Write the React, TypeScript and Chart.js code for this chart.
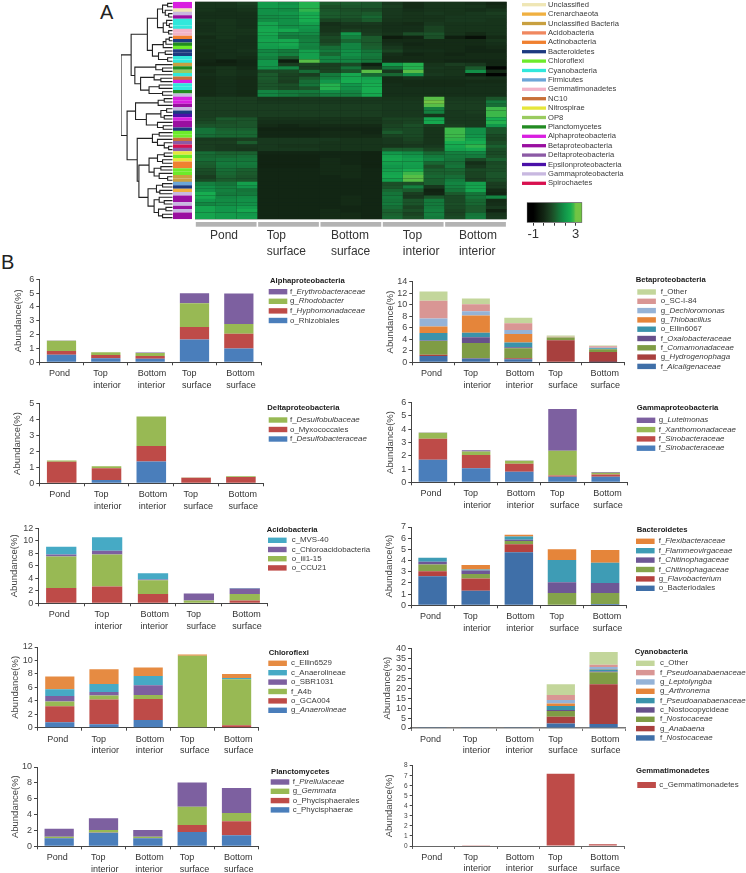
import React, { useEffect, useRef } from "react";
import Chart from "chart.js/auto";

const FONT = '"Liberation Sans", Arial, sans-serif';

// ---------- Panel A data ----------
const heatGroups = ["Pond", "Top surface", "Bottom surface", "Top interior", "Bottom interior"];
const heatGroupTickLabels: (string | string[])[] = ["Pond", ["Top", "surface"], ["Bottom", "surface"], ["Top", "interior"], ["Bottom", "interior"]];
const heatRows: number[][] = [
  [.3,.3,.5, 2.1,1.9,2.6, 1.0,1.0,.9, .4,.1,.3, .3,.2,.0],
  [.3,.3,.4, 2.1,2.0,2.6, .8,.9,.9, .5,.1,.3, .3,.3,.1],
  [.3,.2,.3, 1.9,1.8,2.7, .9,.8,.7, .4,.2,.3, .3,.2,.3],
  [.2,.2,.2, 1.9,2.0,2.4, 1.0,.9,1.0, .4,.3,.4, .3,.4,.5],
  [.2,.2,.2, 1.8,1.9,2.5, 1.0,.9,1.2, .4,.3,.3, .4,.4,.4],
  [.3,.3,.2, 1.8,1.9,2.5, .6,.7,1.0, .3,.3,.3, .4,.4,.3],
  [.2,.3,.2, 2.3,1.9,2.2, .2,.4,.4, .2,.1,.4, .3,.3,.3],
  [.2,.3,.2, 2.3,1.9,2.0, .3,.3,.3, .2,.2,.6, .3,.3,.3],
  [.2,.3,.3, 2.4,2.4,1.9, .3,.5,.4, .2,.2,.6, .3,.3,.3],
  [.3,.3,.3, 2.4,1.7,1.8, .5,2.0,.5, .3,.8,.9, .3,.1,.3],
  [.1,.3,.2, 2.2,1.5,1.5, .7,1.6,1.0, -.3,-.1,.8, -.2,-.6,.1],
  [.2,.2,.2, 2.3,2.4,1.6, .6,1.2,1.0, .1,.1,.1, .1,.1,.3],
  [.2,.2,.2, 2.2,2.4,1.7, .8,1.7,1.0, .2,.0,.1, .1,.1,.2],
  [.1,.2,.2, 2.1,2.2,1.6, 1.3,1.7,1.1, .4,.1,.1, .1,.0,.1],
  [.2,.2,.3, 1.7,1.5,2.2, 1.5,1.9,1.4, .6,.2,.2, .1,.0,.0],
  [.1,.2,.2, 1.8,1.6,2.2, 1.2,1.9,1.5, .2,.0,.1, .0,.1,.1],
  [.1,.2,.1, 1.6,1.0,2.2, 1.7,1.7,1.4, .1,.1,.1, .1,.1,.1],
  [.0,-.2,.0, 2.0,-.2,2.9, 1.7,1.7,1.4, .1,.1,.1, .0,.0,.0],
  [-.1,-.1,.0, 2.0,.5,.6, .5,.7,-.2, 2.1,2.6,.3, .5,.4,.0],
  [.2,.3,.1, 1.9,1.7,.5, .6,1.4,.3, 1.4,2.6,.4, .3,1.0,-.9],
  [.1,.3,.2, .7,.7,1.3, .6,.9,2.9, .4,2.9,.3, .3,1.9,.1],
  [.2,.3,.2, 1.0,.6,.5, 1.5,2.4,1.2, 1.2,1.9,.4, .3,-.2,-.9],
  [.1,.2,.1, 1.0,.6,1.0, 1.6,2.4,2.2, .1,.3,.2, .2,.3,.2],
  [.1,.2,.1, .9,.5,1.3, 2.0,2.5,2.4, .1,.1,.1, .1,.1,.1],
  [.1,.2,.1, .9,.8,1.4, 2.6,2.0,2.5, .2,.1,.1, .1,.2,.2],
  [.1,.2,.1, .9,.7,.9, 2.6,1.9,2.5, .2,.2,.2, .2,.2,.2],
  [.1,.2,.1, 1.7,1.5,1.5, 1.9,1.7,2.5, .2,.2,.2, .2,.2,.2],
  [.1,.2,.1, 1.7,1.5,1.3, 1.6,1.6,2.4, .2,.2,.2, .2,.2,.2],
  [.5,.5,.5, .3,.3,.4, .4,.4,.4, .3,.3,2.9, .4,.4,.9],
  [.5,.5,.5, .4,.4,.4, .4,.4,.4, .4,.4,3.0, .5,.5,1.5],
  [.5,.5,.5, .5,.5,.5, .5,.5,.5, .4,.4,2.9, .5,.5,1.3],
  [.5,.5,.5, .5,.5,.5, .5,.5,.5, .4,.4,1.6, .5,.5,2.8],
  [.5,.5,.5, .5,.5,.5, .5,.5,.5, .4,.4,1.6, .4,.5,2.8],
  [.5,.5,.5, .5,.5,.5, .5,.5,.5, .4,.4,.3, .4,.4,2.8],
  [.6,1.0,.9, .3,.3,.3, .3,.3,.3, .6,.6,2.3, .4,.4,2.5],
  [.7,.8,.9, .2,.2,.2, .3,.3,.3, .5,.6,2.4, .4,.4,2.6],
  [.9,.9,.9, .1,.0,.1, .1,.1,.1, .6,.8,.5, .5,.4,2.0],
  [1.4,1.1,1.1, -.1,-.1,-.1, .0,.0,.0, .7,.7,.3, 2.8,1.9,.9],
  [1.4,1.2,1.2, .0,.0,.0, .1,.1,.0, 1.0,.7,.3, 2.8,1.9,.9],
  [1.3,1.2,1.2, .0,.0,.0, .1,.1,.1, .6,.7,.3, 2.8,2.0,.7],
  [.4,.4,.5, .4,.4,.4, .4,.3,.3, .4,.6,.3, 2.7,2.2,.6],
  [.5,.5,1.0, .4,.4,.4, .3,.3,.3, .4,.5,.3, 2.5,2.5,.8],
  [.5,.4,.4, .4,.3,.3, .3,.3,.3, .3,.4,.4, 2.4,2.7,1.1],
  [.5,.4,.3, .4,.4,.4, .3,.3,.3, 1.0,1.0,.6, 2.2,2.4,.8],
  [1.3,1.1,1.1, .0,.0,.0, .0,.0,-.1, 2.0,1.8,1.2, 1.6,1.7,.7],
  [1.2,1.2,1.3, -.1,-.1,-.1, .0,.0,-.1, 2.3,2.0,1.5, 1.5,1.5,.8],
  [1.3,1.4,1.4, -.1,-.1,-.1, .1,.0,-.1, 2.4,2.2,1.7, 1.4,.7,1.1],
  [1.1,1.5,1.5, -.1,-.1,-.1, .1,.0,-.1, 2.2,2.2,1.2, 1.3,.2,.7],
  [1.0,1.4,1.4, -.1,-.1,-.1, .1,.1,-.1, 2.0,2.1,.8, 1.4,.4,.8],
  [.8,1.3,1.1, .0,.0,.0, .1,.1,.0, 2.2,2.5,1.1, 1.2,.7,.8],
  [.7,1.2,1.0, .0,.0,.0, .1,.1,.0, 2.3,2.8,1.1, 1.1,.6,.9],
  [.5,1.1,.9, .0,.0,.0, .0,.1,.0, 2.4,2.9,1.2, 1.3,.6,.9],
  [.7,1.0,.9, .0,.0,.0, .0,.0,.0, 2.2,2.9,1.1, 1.5,.5,.8],
  [1.6,1.4,2.2, .0,.0,.0, .0,.0,.0, .8,.8,1.1, 1.7,2.2,.5],
  [1.9,1.6,2.0, .0,.0,.0, .0,.0,.0, .9,1.6,.4, 1.6,2.3,.5],
  [1.9,1.6,1.4, .0,.0,.0, .0,.0,.0, 1.2,1.0,-.1, 1.4,2.3,.1],
  [2.5,1.5,1.5, .0,.0,.0, .0,.0,.0, 1.4,.5,.0, 1.0,1.4,.0],
  [2.4,1.7,1.8, .0,.0,.0, .0,.1,.0, 1.5,.4,.9, .7,1.4,1.7],
  [2.0,1.8,1.9, .0,.0,.0, .0,.1,.0, 1.4,.9,1.5, .7,1.2,.1],
  [1.7,1.8,1.9, .0,.0,.0, .0,.1,.0, 1.5,.9,1.5, .8,1.2,.2],
  [2.3,2.0,2.1, .0,.0,.0, .0,.0,.0, 1.3,.6,1.5, .7,1.0,.4],
  [2.3,2.0,2.4, .0,.0,.0, .1,.0,.0, 1.1,.8,1.6, .6,1.0,-.1],
  [2.3,2.1,2.0, .0,.0,.0, .1,.1,.0, 1.1,.6,1.6, .6,1.4,.3],
  [2.3,2.1,2.1, .0,.0,.0, .1,.1,.0, 1.2,.8,1.5, .7,1.5,.4],
];

const phylaNames = ["Unclassified", "Crenarchaeota", "Unclassified Bacteria", "Acidobacteria", "Actinobacteria", "Bacteroidetes", "Chloroflexi", "Cyanobacteria", "Firmicutes", "Gemmatimonadetes", "NC10", "Nitrospirae", "OP8", "Planctomycetes", "Alphaproteobacteria", "Betaproteobacteria", "Deltaproteobacteria", "Epsilonproteobacteria", "Gammaproteobacteria", "Spirochaetes"];
const phylaColors = ["#EFE6B5", "#F0B040", "#C8A040", "#F08860", "#F08030", "#1C3A80", "#6DEB2A", "#30E8DC", "#6BA5D8", "#F2B3C8", "#C87038", "#E6E63A", "#9ACB60", "#228B22", "#D91FE0", "#9A0FA0", "#8C5AA5", "#4A10A8", "#C8B8E0", "#D8104F"];
const [Un, Cr, UB, Ac, Ax, Ba, Ch, Cy, Fi, Ge, NC, Ni, OP, Pl, Al, Be, De, Ep, Ga, Sp] = phylaNames;
const rowPhyla = [Al,Al,Un,Ga,Be,Cy,Cy,Cy,Ge,Ge,Ax,Ba,Pl,Ch,Ba,Ba,Cy,Cy,UB,Pl,OP,Cy,NC,Al,Cy,Cy,Pl,Ga,Al,Al,Be,Ga,Ba,Ep,Al,Be,Be,Ba,Ch,Ch,NC,De,Sp,De,Ni,Ch,Ni,Ax,Ax,Ch,Ch,UB,UB,Fi,Ba,Cr,Ga,Be,Be,Ga,Be,Ga,Be,Be];

// height, child, child; 0 is a leaf
const dendroTree: any = [153,
  [123,
    [75,
      [45, [30,[15,0,0],[22,0,[12,0,0]]], [28,[18,0,[10,0,0]],[12,0,0]]],
      [60, [28,[20,[10,0,0],0],0], [42,[22,0,0],[15,0,0]]]],
    [112, [50,0,[30,0,0]], [95,[55,0,[35,0,0]],[70,[40,0,0],[30,0,0]]]]],
  [135,
    [110, [43,[25,0,0],0], [78,[35,[18,0,0],[25,0,0]],[45,0,[28,0,0]]]],
    [105,
      [60,[40,0,0],[45,0,[25,0,[12,0,0]]]],
      [100,
        [70,[45,[25,0,0],[30,0,0]],[55,[35,0,0],[40,0,[15,0,0]]]],
        [73,[48,[30,0,0],[38,0,0]],[55,[40,0,[25,0,0]],[42,[20,0,0],[30,0,0]]]]]]]];

// ---------- Panel B data ----------
const categories: (string | string[])[] = ["Pond", ["Top", "interior"], ["Bottom", "interior"], ["Top", "surface"], ["Bottom", "surface"]];

const alphaNames = ["o_Rhizobiales", "f_Hyphomonadaceae", "g_Rhodobacter", "f_Erythrobacteraceae"];
const alphaValues = [[.55,.3,.25,1.65,1.0],[.27,.22,.2,.9,1.07],[.74,.2,.22,1.72,.7],[.02,.0,.03,.73,2.2]];
const deltaNames = ["f_Desulfobacteraceae", "o_Myxococcales", "f_Desulfobulbaceae"];
const deltaValues = [[.03,.2,1.37,.0,.0],[1.33,.75,.97,.35,.4],[.07,.12,1.85,.02,.05]];
const betaNames = ["f_Alcaligenaceae", "g_Hydrogenophaga", "f_Comamonadaceae", "f_Oxalobacteraceae", "o_Ellin6067", "g_Thiobacillus", "g_Dechloromonas", "o_SC-I-84", "f_Other"];
const betaValues = [[1.1,.65,.55,.0,.02],[.2,.1,.15,3.85,1.75],[2.4,2.6,1.75,.45,.5],[.1,1.0,.15,.0,.0],[1.3,.8,.85,.0,.15],[1.1,3.0,1.45,.05,.0],[1.4,.7,.7,.05,.1],[3.1,1.25,1.2,.05,.25],[1.6,1.0,.95,.2,.13]];
const gammaNames = ["f_Sinobacteraceae", "f_Sinobacteraceae", "f_Xanthomonadaceae", "g_Luteimonas"];
const gammaValues = [[1.7,1.05,.8,.42,.42],[1.58,1.0,.6,.1,.17],[.45,.27,.22,1.85,.13],[.02,.1,.02,3.15,.05]];
const acidoNames = ["o_CCU21", "o_iii1-15", "c_Chloroacidobacteria", "c_MVS-40"];
const acidoValues = [[2.45,2.7,1.5,.1,.45],[5.05,5.1,2.2,.35,1.05],[.3,.6,.1,1.1,.85],[1.25,2.15,1.0,.0,.1]];
const bacteroNames = ["o_Bacteriodales", "g_Flavobacterium", "f_Chitinophagaceae", "f_Chitinophagaceae", "f_Flammeovirgaceae", "f_Flexibacteraceae"];
const bacteroValues = [[2.6,1.3,4.75,.0,.12],[.45,1.1,.7,.0,.0],[.6,.4,.3,1.1,.98],[.25,.3,.1,.95,.9],[.35,.1,.3,2.0,1.8],[.0,.4,.15,.95,1.15]];
const chloroNames = ["g_Anaerolineae", "o_GCA004", "f_A4b", "o_SBR1031", "c_Anaerolineae", "c_Ellin6529"];
const chloroValues = [[.8,.5,1.15,.0,.05],[2.4,3.7,3.1,.05,.3],[.7,.6,.6,10.65,6.85],[.8,.5,1.45,.0,.0],[1.0,1.2,1.4,.0,.2],[1.9,2.2,1.25,.2,.6]];
const planctoNames = ["c_Phycisphaerae", "o_Phycisphaerales", "g_Gemmata", "f_Pirellulaceae"];
const planctoValues = [[1.0,1.7,1.0,1.8,1.4],[.05,.05,.05,.9,1.75],[.15,.3,.15,2.3,1.05],[1.0,1.5,.85,3.05,3.15]];
const cyanoNames = ["f_Nostocaceae", "g_Anabaena", "f_Nostocaceae", "c_Nostocopycideae", "f_Pseudoanabaenaceae", "g_Arthronema", "g_Leptolyngba", "f_Pseudoanabaenaceae", "c_Other"];
const cyanoValues = [[.1,.1,.1,2.2,2.0],[.0,.0,.0,3.5,20.0],[.0,.0,.0,2.8,6.0],[.0,.0,.0,.5,.4],[.0,.0,.0,2.0,1.0],[.0,.0,.0,1.3,.2],[.0,.0,.0,1.7,1.0],[.0,.0,.0,2.5,1.2],[.0,.0,.0,5.5,6.3]];
const gemmaNames = ["c_Gemmatimonadetes"];
const gemmaValues = [[.05,.08,.05,7.2,.18]];

const romanNames = ["f_A4b", "f_Other"];

const stdColors = ["#4A7EBB", "#BE4B48", "#98B954", "#7D60A0", "#46AAC5", "#E68B42"];
const darkColors = ["#3F6FA8", "#A8403E", "#7F9C45", "#67508B", "#3A93AB", "#E5853A", "#95B3D7", "#D99694", "#C3D69B"];

// ---------- Helpers ----------
const heatStops: [number, string][] = [
  [-1, "#000000"], [-0.3, "#0E1C0E"], [0, "#122614"], [0.5, "#1A3D20"], [1, "#1B5A2C"],
  [1.5, "#147A3C"], [2, "#12964A"], [2.5, "#17AD50"], [2.8, "#3DB84A"], [3, "#72C444"],
];
const hexRgb = (h: string) => [1, 3, 5].map((i) => parseInt(h.slice(i, i + 2), 16));
function heatColor(v: number) {
  for (let i = 1; i < heatStops.length; i++) {
    if (v <= heatStops[i][0]) {
      const [a, ca] = heatStops[i - 1];
      const [b, cb] = heatStops[i];
      const t = Math.max(0, (v - a) / (b - a));
      const A = hexRgb(ca), B = hexRgb(cb);
      return `rgb(${A.map((x, k) => Math.round(x + (B[k] - x) * t)).join(",")})`;
    }
  }
  return heatStops[heatStops.length - 1][1];
}

const sideLegendPlugin = {
  id: "sideLegend",
  afterDraw(chart: any, _a: any, o: any) {
    if (!o || !o.rowY) return;
    const ctx = chart.ctx;
    ctx.save();
    ctx.textBaseline = "middle";
    ctx.textAlign = "left";
    if (o.title) {
      ctx.font = `bold ${o.titleSize || 7.7}px ${FONT}`;
      ctx.fillStyle = "#1a1a1a";
      ctx.fillText(o.title, o.titleX, o.titleY);
    }
    const sets = [...chart.data.datasets];
    if (o.reverse) sets.reverse();
    sets.forEach((ds: any, i: number) => {
      const y = o.rowY + i * o.pitch;
      ctx.fillStyle = ds.legendColor || ds.backgroundColor;
      ctx.fillRect(o.swatchX, y - o.swatchH / 2, o.swatchW, o.swatchH);
      ctx.fillStyle = "#3a3a3a";
      const name: string = ds.label;
      const size = o.size || 8;
      const italic = o.italics && /^[fg]_/.test(name) && !romanNames.includes(name);
      if (italic) {
        ctx.font = `${size}px ${FONT}`;
        ctx.fillText(name.slice(0, 2), o.textX, y);
        const w = ctx.measureText(name.slice(0, 2)).width;
        ctx.font = `italic ${size}px ${FONT}`;
        ctx.fillText(name.slice(2), o.textX + w, y);
      } else {
        ctx.font = `${size}px ${FONT}`;
        ctx.fillText(name, o.textX, y);
      }
    });
    ctx.restore();
  },
};

const heatBackPlugin = {
  id: "heatBack",
  beforeDatasetsDraw(chart: any) {
    const a = chart.chartArea;
    chart.ctx.save();
    chart.ctx.fillStyle = "#14291a";
    chart.ctx.fillRect(a.left, a.top, a.right - a.left, a.bottom - a.top);
    chart.ctx.restore();
  },
};

const groupBarPlugin = {
  id: "groupBars",
  afterDraw(chart: any) {
    const x = chart.scales.x;
    const bottom = chart.chartArea.bottom;
    chart.ctx.save();
    chart.ctx.fillStyle = "#b3b3b3";
    heatGroups.forEach((_g, i) => {
      const a = x.getPixelForValue(i * 3) + 0.8;
      const b = x.getPixelForValue(i * 3 + 3) - 0.8;
      chart.ctx.fillRect(a, bottom + 2.7, b - a, 4.7);
    });
    chart.ctx.restore();
  },
};

function CanvasChart({ rect, build }: { rect: number[]; build: (c: HTMLCanvasElement) => any }) {
  const ref = useRef<HTMLCanvasElement>(null);
  useEffect(() => {
    const chart = new Chart(ref.current as any, build(ref.current as any));
    return () => chart.destroy();
  }, []);
  const [left, top, width, height] = rect;
  return <canvas ref={ref} width={width} height={height} style={{ position: "absolute", left, top, width, height, display: "block" }} />;
}

const baseOptions = {
  responsive: false,
  animation: false,
  events: [] as string[],
  devicePixelRatio: 1,
};

// ---------- Stacked panels ----------
type PanelSpec = {
  title: string; names: string[]; values: number[][]; colors: string[];
  plot: number[]; // left, right, top, bottom px
  yMax: number; step: number; titleCx: number; tickSize?: number; axisWidth?: number; axisColor?: string;
  titleX: number; titleY: number; swatchX: number; swatchW?: number; textX: number; rowY: number; pitch: number; swatchH?: number;
  colX: number; colW: number;
};

function panelConfig(p: PanelSpec) {
  const [pl, pr, pt, pb] = p.plot;
  const cx = p.colX;
  const cy = Math.floor(pt - 8);
  const xAxisH = 36;
  const ch = Math.ceil(pb + xAxisH - cy);
  const titleLeft = p.titleCx - 5.7;
  return {
    rect: [cx, cy, p.colW, ch],
    config: {
      type: "bar",
      plugins: [sideLegendPlugin],
      data: {
        labels: categories,
        datasets: p.names.map((n, i) => ({
          label: n,
          data: p.values[i],
          backgroundColor: p.colors[i],
          barPercentage: 0.66,
          categoryPercentage: 1,
          borderWidth: 0,
        })),
      },
      options: {
        ...baseOptions,
        layout: { padding: { left: titleLeft - cx, right: cx + p.colW - pr, top: pt - cy, bottom: cy + ch - pb - xAxisH } },
        plugins: {
          legend: { display: false },
          title: { display: false },
          tooltip: { enabled: false },
          sideLegend: {
            title: p.title, titleX: p.titleX - cx, titleY: p.titleY - cy, reverse: true, italics: true,
            swatchX: p.swatchX - cx, swatchW: p.swatchW ?? 18.6, swatchH: p.swatchH ?? 5.4,
            textX: p.textX - cx, rowY: p.rowY - cy, pitch: p.pitch, size: 7.9,
          },
        },
        scales: {
          x: {
            stacked: true,
            afterFit: (s: any) => { s.height = xAxisH; },
            grid: { offset: true, drawOnChartArea: false, tickLength: 3, color: p.axisColor || "#444" },
            border: { color: p.axisColor || "#444", width: p.axisWidth || 1 },
            ticks: { color: "#333", font: { family: FONT, size: 9, lineHeight: 1.25 }, padding: 3, align: "start", labelOffset: -12.5, autoSkip: false, maxRotation: 0, minRotation: 0 },
          },
          y: {
            stacked: true,
            min: 0,
            max: p.yMax,
            afterFit: (s: any) => { s.width = pl - titleLeft; },
            grid: { drawOnChartArea: false, tickLength: 3, color: "#444" },
            border: { color: "#444" },
            ticks: { stepSize: p.step, autoSkip: false, color: "#444", font: { family: FONT, size: p.tickSize || 9 }, padding: 2 },
            title: { display: true, text: "Abundance(%)", color: "#444", font: { family: FONT, size: 9.5, lineHeight: 1.2 }, padding: { top: 0, bottom: 0 } },
          },
        },
      },
    },
  };
}

const L = 0, R = 370;
const panels: PanelSpec[] = [
  { title: "Alphaproteobacteria", names: alphaNames, values: alphaValues, colors: stdColors, plot: [39.3, 261, 279.3, 362.3], yMax: 6, step: 1, titleCx: 18.3,
    titleX: 270, titleY: 280.7, swatchX: 268.7, textX: 290, rowY: 291.7, pitch: 9.6, colX: L, colW: 372 },
  { title: "Deltaproteobacteria", names: deltaNames, values: deltaValues, colors: stdColors, plot: [39.3, 263.3, 403.7, 483.3], yMax: 5, step: 1, titleCx: 17,
    titleX: 267.3, titleY: 407.7, swatchX: 268.7, textX: 290, rowY: 420, pitch: 9.5, colX: L, colW: 372 },
  { title: "Betaproteobacteria", names: betaNames, values: betaValues, colors: darkColors, plot: [412.3, 624.3, 281.7, 362.3], yMax: 14, step: 2, titleCx: 390,
    titleX: 635.7, titleY: 280.3, swatchX: 637.3, textX: 660.7, rowY: 292, pitch: 9.3, colX: R, colW: 376 },
  { title: "Gammaproteobacteria", names: gammaNames, values: gammaValues, colors: stdColors, plot: [411.3, 627.3, 402.7, 482.3], yMax: 6, step: 1, titleCx: 390,
    titleX: 636.7, titleY: 408, swatchX: 636.7, textX: 658.7, rowY: 420.3, pitch: 9.3, colX: R, colW: 376 },
  { title: "Acidobacteria", names: acidoNames, values: acidoValues, colors: [stdColors[1], stdColors[2], stdColors[3], stdColors[4]], plot: [38.3, 267.7, 528.3, 603.3], yMax: 12, step: 2, titleCx: 14,
    titleX: 266.7, titleY: 530.3, swatchX: 268, textX: 291.7, rowY: 540.3, pitch: 9.2, colX: L, colW: 372 },
  { title: "Bacteroidetes", names: bacteroNames, values: bacteroValues, colors: ["#3F6FA8", "#B5423F", "#84A34B", "#6E5796", "#3E9CB5", "#E5853A"], plot: [411, 626.7, 527, 605.3], yMax: 7, step: 1, titleCx: 389.3,
    titleX: 636.7, titleY: 530, swatchX: 636, textX: 658.7, rowY: 541.3, pitch: 9.4, colX: R, colW: 376 },
  { title: "Chloroflexi", names: chloroNames, values: chloroValues, colors: stdColors, plot: [37.7, 258.7, 647, 727.7], yMax: 12, step: 2, titleCx: 15,
    titleX: 268.7, titleY: 653, swatchX: 268.3, textX: 291, rowY: 663.3, pitch: 9.4, colX: L, colW: 372 },
  { title: "Planctomycetes", names: planctoNames, values: planctoValues, colors: stdColors, plot: [37, 258.7, 767, 846.3], yMax: 10, step: 2, titleCx: 15,
    titleX: 271, titleY: 772, swatchX: 270.7, textX: 292.7, rowY: 782, pitch: 9.3, colX: L, colW: 372 },
  { title: "Cyanobacteria", names: cyanoNames, values: cyanoValues, colors: darkColors, plot: [411, 625, 648.3, 728], yMax: 40, step: 5, titleCx: 387, axisColor: "#777", axisWidth: 1.6,
    titleX: 634.7, titleY: 651.7, swatchX: 636, textX: 660, rowY: 663.3, pitch: 9.33, colX: R, colW: 376 },
  { title: "Gemmatimonadetes", names: gemmaNames, values: gemmaValues, colors: [stdColors[1]], plot: [412.7, 624, 765.7, 846], yMax: 8, step: 1, titleCx: 389, tickSize: 6.5, axisColor: "#666",
    titleX: 636, titleY: 771.3, swatchX: 637.3, textX: 659.3, rowY: 785, pitch: 9.3, swatchH: 6, colX: R, colW: 376 },
];

// ---------- Panel A charts ----------
const heatTop = 1.7, heatBottom = 219.3, heatLeft = 195, heatRight = 506.7;
const rowLabels = heatRows.map((_, i) => `row ${i + 1}`);

function heatConfig() {
  const h = 263;
  return {
    type: "bar",
    plugins: [heatBackPlugin, groupBarPlugin],
    data: {
      labels: rowLabels,
      datasets: heatRows[0].map((_, col) => ({
        label: `${heatGroups[Math.floor(col / 3)]} ${col % 3 + 1}`,
        data: heatRows.map(() => 1),
        backgroundColor: heatRows.map((r) => heatColor(r[col])),
        barPercentage: 1.04,
        categoryPercentage: 1,
        borderWidth: 0,
      })),
    },
    options: {
      ...baseOptions,
      indexAxis: "y",
      layout: { padding: { left: 0, right: 0.3, top: heatTop, bottom: h - heatBottom - 42.7 } },
      plugins: { legend: { display: false }, tooltip: { enabled: false } },
      scales: {
        y: { stacked: true, display: false },
        x: {
          stacked: true,
          min: 0,
          max: 15,
          afterFit: (s: any) => { s.height = 42.7; },
          afterBuildTicks: (s: any) => { s.ticks = [0.72, 3.45, 6.54, 10, 12.7].map((value) => ({ value })); },
          grid: { display: false, drawTicks: false },
          border: { display: false },
          ticks: {
            color: "#333",
            font: { family: FONT, size: 12, lineHeight: 1.3 },
            padding: 8.7,
            align: "start",
            autoSkip: false,
            maxRotation: 0,
            minRotation: 0,
            callback: (_v: any, i: number) => heatGroupTickLabels[i],
          },
        },
      },
    },
  };
}

function stripConfig() {
  return {
    type: "bar",
    data: {
      labels: rowLabels,
      datasets: [{
        label: "Phylum",
        data: rowPhyla.map(() => 1),
        backgroundColor: rowPhyla.map((p) => phylaColors[phylaNames.indexOf(p)]),
        barPercentage: 1.04,
        categoryPercentage: 1,
        borderWidth: 0,
      }],
    },
    options: {
      ...baseOptions,
      indexAxis: "y",
      layout: { padding: { left: 0, right: 0, top: heatTop, bottom: 222 - heatBottom } },
      plugins: { legend: { display: false }, tooltip: { enabled: false } },
      scales: { y: { display: false }, x: { display: false, min: 0, max: 1 } },
    },
  };
}

function dendroPoints() {
  const pts: { x: number; y: number }[] = [];
  let next = 0;
  const walk = (n: any): { y: number; h: number } => {
    if (n === 0) return { y: next++, h: 0 };
    const a = walk(n[1]);
    const b = walk(n[2]);
    pts.push({ x: a.h, y: a.y }, { x: n[0], y: a.y }, { x: n[0], y: b.y }, { x: b.h, y: b.y }, { x: NaN, y: NaN });
    return { y: (a.y + b.y) / 2, h: n[0] };
  };
  walk(dendroTree);
  return pts;
}

function dendroConfig() {
  return {
    type: "scatter",
    data: {
      datasets: [{
        label: "Dendrogram",
        data: dendroPoints(),
        showLine: true,
        spanGaps: false,
        pointRadius: 0,
        borderColor: "#222",
        borderWidth: 1.1,
        tension: 0,
      }],
    },
    options: {
      ...baseOptions,
      layout: { padding: { left: 1, right: 0.3, top: heatTop, bottom: 222 - heatBottom } },
      plugins: { legend: { display: false }, tooltip: { enabled: false } },
      scales: {
        x: { display: false, reverse: true, min: 0, max: 153 },
        y: { display: false, reverse: true, min: -0.5, max: heatRows.length - 0.5 },
      },
    },
  };
}

function phylaLegendConfig() {
  return {
    type: "bar",
    plugins: [sideLegendPlugin],
    data: {
      labels: [""],
      datasets: phylaNames.map((n, i) => ({ label: n, data: [], backgroundColor: phylaColors[i] })),
    },
    options: {
      ...baseOptions,
      plugins: {
        legend: { display: false },
        tooltip: { enabled: false },
        sideLegend: { swatchX: 2, swatchW: 24, swatchH: 3.3, textX: 28, rowY: 4.7, pitch: 9.4, size: 7.6 },
      },
      scales: { x: { display: false }, y: { display: false } },
    },
  };
}

const colorbarRange = [-1.62, 3.62];
const colorbarTicks = [-1, 0, 1, 2, 3];
const colorbarLabels: Record<string, string> = { "-1": "-1", "3": "3" };

function colorbarConfig() {
  const cbLeft = 526.7, cbRight = 582.3, cbTop = 202.3, cbBottom = 222.7;
  const cl = 515, ct = 198, cw = 80, chh = 47;
  return {
    type: "bar",
    data: {
      labels: ["Value"],
      datasets: [{
        label: "Colour key",
        data: [colorbarRange],
        barPercentage: 1,
        categoryPercentage: 1,
        borderWidth: 1,
        borderColor: "#555",
        borderSkipped: false,
        backgroundColor: (ctx: any) => {
          const { chart } = ctx;
          const area = chart.chartArea;
          if (!area) return "#12964A";
          const g = chart.ctx.createLinearGradient(area.left, 0, area.right, 0);
          heatStops.forEach(([v, c]) => {
            const t = (chart.scales.x.getPixelForValue(v) - area.left) / (area.right - area.left);
            g.addColorStop(Math.max(0, Math.min(1, t)), c);
          });
          return g;
        },
      }],
    },
    options: {
      ...baseOptions,
      indexAxis: "y",
      layout: { padding: { left: cbLeft - cl, right: cl + cw - cbRight, top: cbTop - ct, bottom: ct + chh - cbBottom - 22 } },
      plugins: { legend: { display: false }, tooltip: { enabled: false } },
      scales: {
        y: { display: false },
        x: {
          min: colorbarRange[0],
          max: colorbarRange[1],
          afterFit: (s: any) => { s.height = 22; },
          afterBuildTicks: (s: any) => { s.ticks = colorbarTicks.map((value) => ({ value })); },
          grid: { drawOnChartArea: false, tickLength: 3, color: "#333" },
          border: { display: false },
          ticks: {
            color: "#333",
            font: { family: FONT, size: 13 },
            padding: 1,
            autoSkip: false,
            maxRotation: 0,
            callback: (v: number) => colorbarLabels[String(v)] ?? "",
          },
        },
      },
    },
  };
}

const letterStyle: React.CSSProperties = { position: "absolute", font: `20px/20px ${FONT}`, color: "#222" };

export default function App() {
  return (
    <div style={{ position: "absolute", left: 0, top: 0, width: 746, height: 873, overflow: "hidden", background: "#fff" }}>
      <div style={{ ...letterStyle, left: 100, top: 2 }}>A</div>
      <div style={{ ...letterStyle, left: 1, top: 252 }}>B</div>
      <CanvasChart rect={[120, 0, 53, 222]} build={dendroConfig} />
      <CanvasChart rect={[173, 0, 19, 222]} build={stripConfig} />
      <CanvasChart rect={[heatLeft, 0, Math.ceil(heatRight - heatLeft + 0.3), 263]} build={heatConfig} />
      <CanvasChart rect={[520, 0, 226, 196]} build={phylaLegendConfig} />
      <CanvasChart rect={[515, 198, 80, 47]} build={colorbarConfig} />
      {panels.map((p) => {
        const { rect, config } = panelConfig(p);
        return <CanvasChart key={p.title} rect={rect} build={() => config} />;
      })}
    </div>
  );
}
